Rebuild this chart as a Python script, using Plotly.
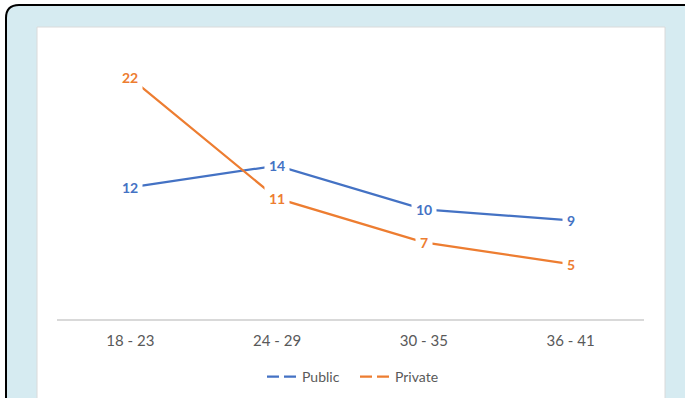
import plotly.graph_objects as go

categories = ["18 - 23", "24 - 29", "30 - 35", "36 - 41"]
public = [12, 14, 10, 9]
private = [22, 11, 7, 5]
series_names = ["Public", "Private"]

BLUE = "#4472C4"
ORANGE = "#ED7D31"
GREY = "#595959"

W, H = 685, 398
ML, MR, MT, MB = 57, 41, 45, 79
PW, PH = W - ML - MR, H - MT - MB


def px(x):
    return (x - ML) / PW


def py(y):
    return (H - MB - y) / PH


fig = go.Figure()

for name, vals, col in [(series_names[0], public, BLUE), (series_names[1], private, ORANGE)]:
    fig.add_trace(go.Scatter(x=categories, y=vals, mode="lines", name=name,
                             line=dict(color=col, width=2.25), showlegend=False,
                             hoverinfo="skip"))
    # legend-only entry with the dashed symbol
    fig.add_trace(go.Scatter(x=[None], y=[None], mode="lines", name=name,
                             line=dict(color=col, width=2.25, dash="12px,5px"),
                             showlegend=True))

annotations = []
for vals, col in [(public, BLUE), (private, ORANGE)]:
    for c, v in zip(categories, vals):
        annotations.append(dict(x=c, y=v, xref="x", yref="y", text=f"<b>{v}</b>",
                                showarrow=False, bgcolor="white", borderpad=4,
                                font=dict(family="Lato", size=14, color=col)))

shapes = [
    dict(type="path", xref="paper", yref="paper", layer="below",
         path=(f"M {px(6)},{py(420)} L {px(6)},{py(18)} "
               f"Q {px(6)},{py(5)} {px(19)},{py(5)} "
               f"L {px(720)},{py(5)} L {px(720)},{py(420)} Z"),
         fillcolor="#d6ebf1", line=dict(color="black", width=2)),
    dict(type="rect", xref="paper", yref="paper", layer="below",
         x0=px(37), x1=px(665), y0=py(27), y1=py(420),
         fillcolor="white", line=dict(color="#dadada", width=1)),
]

fig.update_layout(
    width=W, height=H,
    margin=dict(l=ML, r=MR, t=MT, b=MB, autoexpand=False),
    paper_bgcolor="white",
    plot_bgcolor="rgba(0,0,0,0)",
    shapes=shapes,
    annotations=annotations,
    showlegend=True,
    legend=dict(orientation="h", x=px(262), xanchor="left", y=py(377), yanchor="middle",
                font=dict(family="Lato", size=14, color=GREY), bgcolor="rgba(0,0,0,0)",
                itemwidth=30, entrywidth=48, entrywidthmode="pixels"),
    xaxis=dict(range=[-0.5, 3.5], showgrid=False, zeroline=False, showline=True,
               linecolor="#d9d9d9", linewidth=1.5, ticks="outside", ticklen=7,
               tickcolor="rgba(0,0,0,0)",
               tickfont=dict(family="Lato", size=15, color=GREY), fixedrange=True),
    yaxis=dict(range=[0, 25], showgrid=False, zeroline=False, showline=False,
               showticklabels=False, fixedrange=True),
)

fig.write_html("out.html")
